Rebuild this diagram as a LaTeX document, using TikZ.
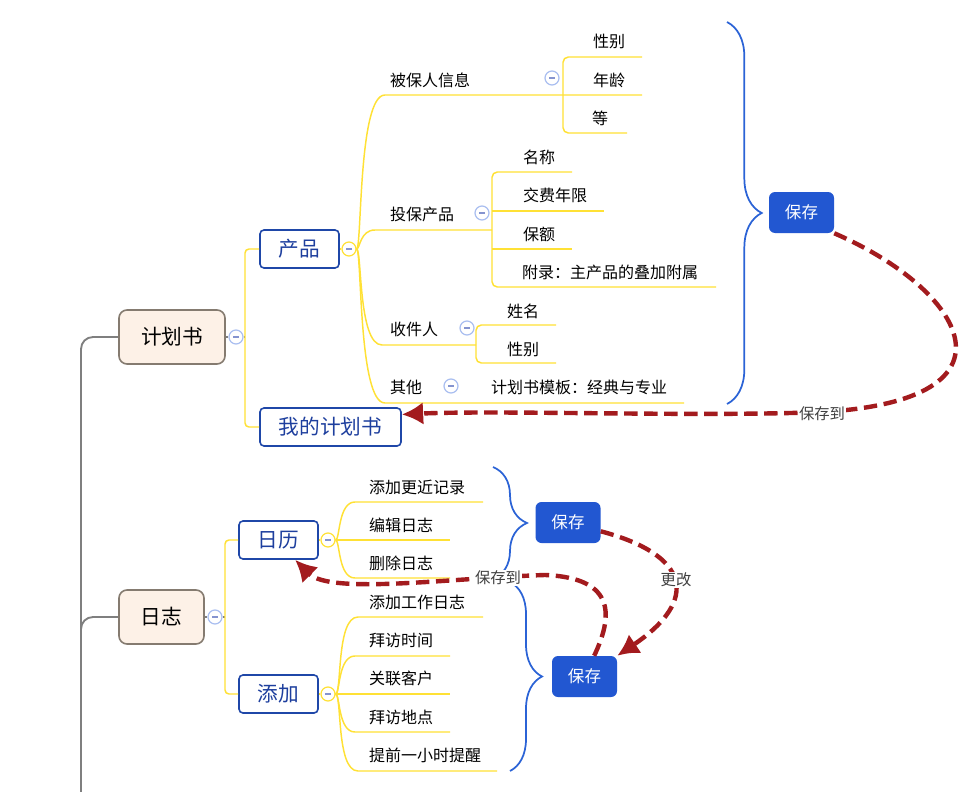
\documentclass[tikz,border=0pt]{standalone}
\usepackage{fontspec}
\setmainfont{Noto Sans CJK SC}
\usetikzlibrary{arrows.meta,decorations.pathreplacing}
\definecolor{jaune}{HTML}{FFE135}
\definecolor{grisligne}{HTML}{7F7F7F}
\definecolor{grisbord}{HTML}{857B70}
\definecolor{beige}{HTML}{FDF1E7}
\definecolor{bleubord}{HTML}{1F47A8}
\definecolor{bleutexte}{HTML}{1E3F9E}
\definecolor{bleuclair}{HTML}{A9BEF0}
\definecolor{moinscol}{HTML}{8594CF}
\definecolor{bleusave}{HTML}{2257D1}
\definecolor{bleuaccol}{HTML}{2B63D6}
\definecolor{rouge}{HTML}{A31B1E}
\definecolor{gristexte}{HTML}{404040}

\begin{document}
\begin{tikzpicture}[x=0.75pt,y=-0.75pt]
 % les styles
  \tikzstyle{racine}=[rectangle,rounded corners=6pt,draw=grisbord,fill=beige,line width=1.2pt,font=\fontsize{15.5}{18}\selectfont,minimum height=40.5pt]
  \tikzstyle{rubrique}=[rectangle,rounded corners=3pt,draw=bleubord,fill=white,line width=1.2pt,text=bleutexte,font=\fontsize{15.5}{18}\selectfont,minimum height=28.5pt]
  \tikzstyle{feuille}=[font=\fontsize{12}{14}\selectfont,inner sep=0pt]
  \tikzstyle{sauver}=[rectangle,rounded corners=4.5pt,fill=bleusave,text=white,font=\fontsize{12.4}{14}\selectfont,minimum width=48.75pt,minimum height=30.75pt]
  \tikzstyle{moins}=[circle,draw=bleuclair,fill=white,line width=0.9pt,minimum size=10.5pt,inner sep=0pt,text=moinscol]
  \tikzstyle{jmoins}=[moins,draw=jaune]
  \tikzstyle{branche}=[draw=jaune,line width=1.1pt]
  \tikzstyle{tronc}=[draw=grisligne,line width=1.4pt]
  \tikzstyle{accolade}=[draw=bleuaccol,line width=1.3pt,decorate,decoration={brace,amplitude=26pt}]
  \tikzstyle{verslien}=[-{Latex[length=16pt,width=17pt]},draw=rouge,line width=3.3pt,dash pattern=on 10pt off 5pt]
  \tikzstyle{etiq}=[fill=white,text=gristexte,font=\fontsize{11.5}{14}\selectfont,inner sep=1pt]
  \path[use as bounding box,fill=white] (0,0) rectangle (978,792);
 % les boites
  \node[racine,minimum width=79.5pt] (jh) at (172,337) {计划书};
  \node[racine,minimum width=63.75pt] (rz) at (161.5,617) {日志};
  \node[rubrique,minimum width=59.25pt] (cp) at (299.5,249) {产品};
  \node[rubrique,minimum width=105.75pt] (wd) at (330.5,427) {我的计划书};
  \node[rubrique,minimum width=59.25pt] (rl) at (278.5,540) {日历};
  \node[rubrique,minimum width=59.25pt] (tj) at (278.5,694) {添加};
  \node[sauver] (s1) at (801.5,212.5) {保存};
  \node[sauver] (s2) at (568,522.5) {保存};
  \node[sauver] (s3) at (584.5,676.5) {保存};
 % les boutons moins
  \node[moins] (m1) at (236,337) {\rule{4.5pt}{0.9pt}};
  \node[moins] (m2) at (215,617) {\rule{4.5pt}{0.9pt}};
  \node[jmoins] (m3) at (349,249) {\rule{4.5pt}{0.9pt}};
  \node[jmoins] (m4) at (328,540) {\rule{4.5pt}{0.9pt}};
  \node[jmoins] (m5) at (328,694) {\rule{4.5pt}{0.9pt}};
  \node[moins] (m6) at (552,78) {\rule{4.5pt}{0.9pt}};
  \node[moins] (m7) at (482,213) {\rule{4.5pt}{0.9pt}};
  \node[moins] (m8) at (467,328) {\rule{4.5pt}{0.9pt}};
  \node[moins] (m9) at (451,386) {\rule{4.5pt}{0.9pt}};
 % les textes
  \node[feuille] (bb) at (430,80) {被保人信息};
  \node[feuille] (xb) at (609,41) {性别};
  \node[feuille] (nl) at (609,80) {年龄};
  \node[feuille] (dg) at (600,118) {等};
  \node[feuille] (tb) at (422,214) {投保产品};
  \node[feuille] (mc) at (539,157) {名称};
  \node[feuille] (jf) at (555,195) {交费年限};
  \node[feuille] (be) at (539,234) {保额};
  \node[feuille] (fl) at (610,272) {附录：主产品的叠加附属};
  \node[feuille] (sj) at (414,329) {收件人};
  \node[feuille] (xm) at (523,311) {姓名};
  \node[feuille] (xb2) at (523,349) {性别};
  \node[feuille] (qt) at (406,387) {其他};
  \node[feuille] (mb) at (579,387) {计划书模板：经典与专业};
  \node[feuille] (gj) at (417,487) {添加更近记录};
  \node[feuille] (bj) at (401,525) {编辑日志};
  \node[feuille] (sc) at (401,563) {删除日志};
  \node[feuille] (gz) at (417,602) {添加工作日志};
  \node[feuille] (fs) at (401,640) {拜访时间};
  \node[feuille] (gl) at (401,678) {关联客户};
  \node[feuille] (fd) at (401,717) {拜访地点};
  \node[feuille] (tq) at (425,755) {提前一小时提醒};
 % le tronc gris
  \draw[tronc,rounded corners=9pt] (81,792) |- (jh.west);
  \draw[tronc,rounded corners=9pt] (81,700) |- (rz.west);
  \draw[tronc] (jh.east) -- (m1.west);
  \draw[tronc,line width=1pt] (m1.east) -- (245,337);
  \draw[tronc] (rz.east) -- (m2.west);
  \draw[tronc,line width=1pt] (m2.east) -- (225,617);
 % les branches jaunes
  \draw[branche,rounded corners=3pt] (cp.west) -| (245,337) |- (wd.west);
  \draw[branche,rounded corners=3pt] (rl.west) -| (225,617) |- (tj.west);
  \draw[branche] (cp.east) -- (m3.west);
  \draw[branche] (rl.east) -- (m4.west);
  \draw[branche] (tj.east) -- (m5.west);
  \draw[branche] (m3.east) .. controls (362,249) and (358,95) .. (385,95) -- (642,95);
  \draw[branche] (m3.east) .. controls (360,249) and (360,230) .. (375,230) -- (492,230);
  \draw[branche] (m3.east) .. controls (362,249) and (358,345) .. (382,345) -- (476,345);
  \draw[branche] (m3.east) .. controls (362,249) and (358,403) .. (385,403) -- (684,403);
  \draw[branche,rounded corners=4pt] (642,57) -- (563,57) -- (563,133) -- (627,133);
  \draw[branche,rounded corners=4pt] (572,172) -- (492,172) -- (492,287) -- (716,287);
  \draw[branche] (492,211) -- (604,211);
  \draw[branche] (492,249) -- (572,249);
  \draw[branche,rounded corners=4pt] (556,325) -- (476,325) -- (476,363) -- (556,363);
  \draw[branche] (m4.east) .. controls (340,540) and (338,502) .. (355,502) -- (483,502);
  \draw[branche] (m4.east) -- (450,540);
  \draw[branche] (m4.east) .. controls (340,540) and (338,578) .. (355,578) -- (450,578);
  \draw[branche] (m5.east) .. controls (342,694) and (336,617) .. (358,617) -- (483,617);
  \draw[branche] (m5.east) .. controls (340,694) and (338,656) .. (355,656) -- (450,656);
  \draw[branche] (m5.east) -- (450,694);
  \draw[branche] (m5.east) .. controls (340,694) and (338,732) .. (355,732) -- (450,732);
  \draw[branche] (m5.east) .. controls (342,694) and (336,771) .. (358,771) -- (497,771);
 % les accolades
  \draw[accolade] (727,22) -- (727,404);
  \draw[accolade,decoration={amplitude=25.5pt}] (493,467) -- (493,579);
  \draw[accolade,decoration={amplitude=24pt}] (510,582) -- (510,771);
 % les fleches
  \draw[verslien] (s1.south east) .. controls (965,290) and (1030,400) .. (822,412) .. controls (700,417) and (500,410) .. (wd.10);
  \draw[verslien] (s2.-15) .. controls (690,555) and (700,600) .. (s3.north east);
  \draw[verslien] (s3.65) .. controls (612,618) and (618,578) .. (545,575) .. controls (450,578) and (330,595) .. (rl.-50);
 % les legendes
  \node[etiq] (l1) at (822,414) {保存到};
  \node[etiq] (l2) at (676,580) {更改};
  \node[etiq] (l3) at (498,578) {保存到};
\end{tikzpicture}
\end{document}
